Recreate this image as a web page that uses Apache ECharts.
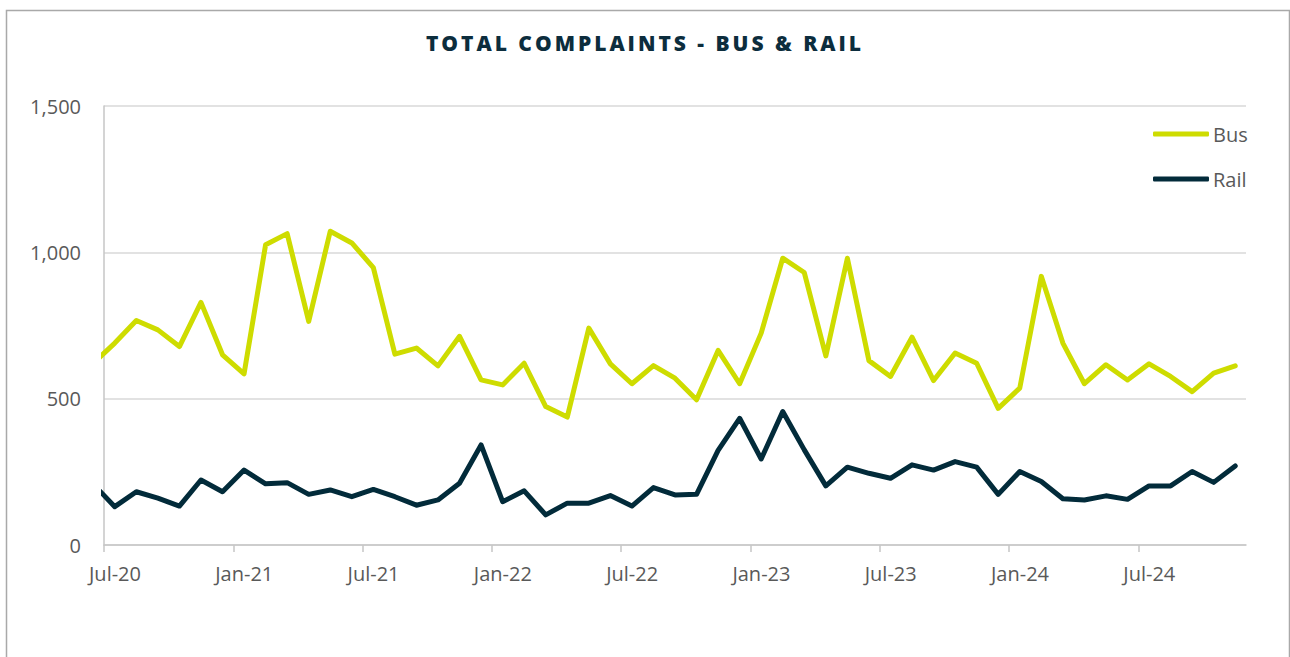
<!DOCTYPE html>
<html>
<head>
<meta charset="utf-8">
<script src="https://cdn.jsdelivr.net/npm/echarts@6/dist/echarts.min.js"></script>
<style>
html,body{margin:0;padding:0;background:#fff;}
#chart{width:1290px;height:657px;}
</style>
</head>
<body>
<div id="chart"></div>
<script>
// Months of data (first one partly clipped at the axis start)
var months = ['Jun-20','Jul-20','Aug-20','Sep-20','Oct-20','Nov-20','Dec-20',
  'Jan-21','Feb-21','Mar-21','Apr-21','May-21','Jun-21','Jul-21','Aug-21','Sep-21','Oct-21','Nov-21','Dec-21',
  'Jan-22','Feb-22','Mar-22','Apr-22','May-22','Jun-22','Jul-22','Aug-22','Sep-22','Oct-22','Nov-22','Dec-22',
  'Jan-23','Feb-23','Mar-23','Apr-23','May-23','Jun-23','Jul-23','Aug-23','Sep-23','Oct-23','Nov-23','Dec-23',
  'Jan-24','Feb-24','Mar-24','Apr-24','May-24','Jun-24','Jul-24','Aug-24','Sep-24','Oct-24','Nov-24'];
var busValues = [621,690,767,735,678,829,650,
  585,1026,1064,764,1072,1032,948,652,673,612,713,564,
  547,621,473,437,741,619,551,613,570,496,665,551,
  724,980,931,646,980,630,576,710,562,656,621,467,
  536,918,690,551,616,564,619,576,524,587,612];
var railValues = [208,131,182,160,133,222,182,
  256,209,213,173,188,165,190,165,136,154,211,342,
  148,185,103,143,143,169,133,196,171,173,323,433,
  294,456,325,202,266,245,228,274,256,285,266,173,
  251,217,158,154,168,156,202,202,251,214,270];
var tickLabels = ['Jul-20','Jan-21','Jul-21','Jan-22','Jul-22','Jan-23','Jul-23','Jan-24','Jul-24'];
var yTicks = [0,500,1000,1500];
var titleText = 'TOTAL COMPLAINTS - BUS & RAIL';

// axis position: 0 = start of Jul-20, each month one unit, points at mid-month
function toPairs(vals){
  return vals.map(function(v,i){ return [i - 0.5, v]; });
}
var tickPos = tickLabels.map(function(l,i){ return i*6; });

var chart = echarts.init(document.getElementById('chart'), null, {renderer:'svg'});
var labelFont = '"Open Sans", Roboto, sans-serif';
chart.setOption({
  animation:false,
  backgroundColor:'#ffffff',
  title:{
    text:titleText, left:'center', top:27,
    textStyle:{fontFamily:'"Open Sans", Lato, sans-serif', fontWeight:800, fontSize:21, color:'#0c2d3d'}
  },
  graphic:[{type:'rect', left:4, top:8, shape:{width:1283, height:700}, style:{fill:'none', stroke:'#a9a9a9', lineWidth:1.5}, silent:true, z:-1}],
  legend:{
    data:['Bus','Rail'], orient:'vertical', left:1153, top:120, itemGap:17, padding:0,
    itemWidth:56, itemHeight:5, icon:'roundRect',
    textStyle:{fontFamily:labelFont, fontSize:20, color:'#595959', padding:[0,0,0,-1], lineHeight:28}
  },
  grid:{left:104, right:44, top:106, bottom:112, containLabel:false},
  xAxis:{
    type:'value', min:0, max:53, interval:6,
    axisLine:{show:true, lineStyle:{color:'#c6c6c6', width:1.5}},
    axisTick:{show:true, length:7, customValues:tickPos, lineStyle:{color:'#c6c6c6', width:1.5}},
    splitLine:{show:false},
    axisLabel:{
      customValues:tickPos, margin:18,
      padding:[0,0,0,22],
      fontFamily:labelFont, fontSize:20, color:'#595959',
      formatter:function(v){ var k=Math.round(v/6); return (v%6===0 && tickLabels[k]) ? tickLabels[k] : ''; }
    }
  },
  yAxis:{
    type:'value', min:yTicks[0], max:yTicks[yTicks.length-1], interval:500,
    axisLine:{show:true, lineStyle:{color:'#c6c6c6', width:1.5}},
    axisTick:{show:false},
    splitLine:{show:true, lineStyle:{color:'#d9d9d9', width:1.5}},
    axisLabel:{margin:23, fontFamily:labelFont, fontSize:20, color:'#595959',
      formatter:function(v){ return v.toLocaleString('en-US'); }}
  },
  series:[
    {name:'Bus', type:'line', data:toPairs(busValues), showSymbol:false, symbol:'none', clip:true,
      lineStyle:{color:'#cedc00', width:5, cap:'round', join:'round'}, itemStyle:{color:'#cedc00'}, z:3},
    {name:'Rail', type:'line', data:toPairs(railValues), showSymbol:false, symbol:'none', clip:true,
      lineStyle:{color:'#022b3a', width:5, cap:'round', join:'round'}, itemStyle:{color:'#022b3a'}, z:4}
  ]
});

function spaceTitle(){
  var texts = document.querySelectorAll('#chart svg text');
  texts.forEach(function(t){
    if (t.textContent === titleText && !t.getAttribute('data-spaced')) {
      t.setAttribute('letter-spacing','0px');
      var len = t.getComputedTextLength ? t.getComputedTextLength() : 380;
      var sp = Math.max(0, (435 - len) / (titleText.length - 1));
      t.setAttribute('letter-spacing', sp.toFixed(2) + 'px');
      t.style.letterSpacing = sp.toFixed(2) + 'px';
      var x = parseFloat(t.getAttribute('x'));
      if (!isNaN(x)) t.setAttribute('x', (x + sp/2).toFixed(2));
      t.setAttribute('data-spaced','1');
    }
  });
}
spaceTitle();
chart.on('finished', spaceTitle);
</script>
</body>
</html>
